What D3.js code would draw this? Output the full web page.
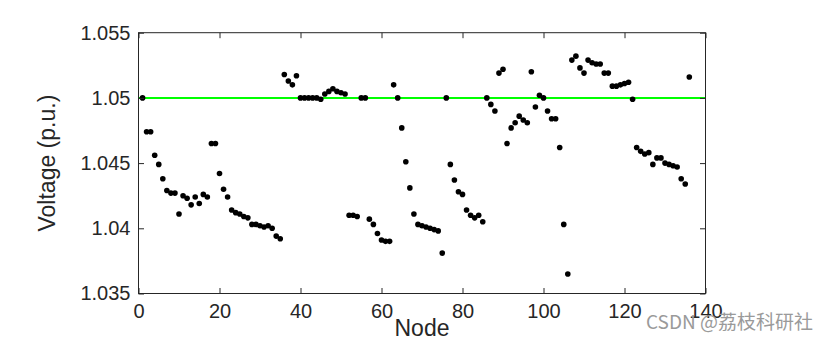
<!DOCTYPE html>
<html>
<head>
<meta charset="utf-8">
<script src="https://cdn.jsdelivr.net/npm/d3@7"></script>
<style>
  body { margin: 0; background: #fff; }
  text { font-family: "Liberation Sans", Arial, Helvetica, sans-serif; }
</style>
</head>
<body>
<svg width="827" height="341"></svg>
<script>
// voltage at node 1..136 (p.u.)
const voltage = [
  1.0500, 1.0474, 1.0474, 1.0456, 1.0449, 1.0438, 1.0429, 1.0427, 1.0427, 1.0411,
  1.0425, 1.0423, 1.0418, 1.0424, 1.0419, 1.0426, 1.0424, 1.0465, 1.0465, 1.0442,
  1.0430, 1.0424, 1.0414, 1.0412, 1.0411, 1.0409, 1.0408, 1.0403, 1.0403, 1.0402,
  1.0401, 1.0402, 1.0400, 1.0394, 1.0392, 1.0518, 1.0513, 1.0510, 1.0517, 1.0500,
  1.0500, 1.0500, 1.0500, 1.0500, 1.0499, 1.0503, 1.0505, 1.0507, 1.0505, 1.0504,
  1.0503, 1.0410, 1.0410, 1.0409, 1.0500, 1.0500, 1.0407, 1.0403, 1.0396, 1.0391,
  1.0390, 1.0390, 1.0510, 1.0500, 1.0477, 1.0451, 1.0431, 1.0411, 1.0403, 1.0402,
  1.0401, 1.0400, 1.0399, 1.0398, 1.0381, 1.0500, 1.0449, 1.0437, 1.0428, 1.0426,
  1.0414, 1.0410, 1.0408, 1.0410, 1.0405, 1.0500, 1.0495, 1.0490, 1.0519, 1.0522,
  1.0465, 1.0477, 1.0481, 1.0486, 1.0483, 1.0481, 1.0520, 1.0493, 1.0502, 1.0500,
  1.0490, 1.0484, 1.0484, 1.0462, 1.0403, 1.0365, 1.0529, 1.0532, 1.0523, 1.0519,
  1.0529, 1.0527, 1.0526, 1.0526, 1.0519, 1.0519, 1.0509, 1.0509, 1.0510, 1.0511,
  1.0512, 1.0499, 1.0462, 1.0459, 1.0457, 1.0458, 1.0449, 1.0454, 1.0454, 1.0450,
  1.0449, 1.0448, 1.0447, 1.0438, 1.0434, 1.0516
];
const refVoltage = 1.05;

const xTicks = [0, 20, 40, 60, 80, 100, 120, 140];
const yTicks = [1.035, 1.04, 1.045, 1.05, 1.055];
const yTickLabels = ['1.035', '1.04', '1.045', '1.05', '1.055'];

const margin = { top: 32.7, right: 121.5, bottom: 47.5, left: 138.5 };

const svg = d3.select('svg');
const width = +svg.attr('width') - margin.left - margin.right;
const height = +svg.attr('height') - margin.top - margin.bottom;
const axisColor = '#262626';

const g = svg.append('g')
  .attr('transform', `translate(${margin.left},${margin.top})`);

const x = d3.scaleLinear().domain([0, 140]).range([0, width]);
const y = d3.scaleLinear().domain([1.035, 1.055]).range([height, 0]);

// reference line
g.append('line')
  .attr('x1', 0).attr('x2', width)
  .attr('y1', y(refVoltage)).attr('y2', y(refVoltage))
  .attr('stroke', '#00ff00')
  .attr('stroke-width', 2);

// points
g.append('g')
  .selectAll('circle')
  .data(voltage)
  .enter()
  .append('circle')
    .attr('cx', (d, i) => x(i + 1))
    .attr('cy', d => y(d))
    .attr('r', 2.8)
    .attr('fill', '#000');

// axes (ticks inward on all four sides)
const tl = 5.5;
const styleAxis = sel => {
  sel.select('.domain').remove();
  sel.selectAll('.tick line').attr('stroke', axisColor);
  sel.selectAll('.tick text')
    .attr('fill', axisColor)
    .style('font-size', '20px');
};

g.append('g')
  .attr('transform', `translate(0,${height})`)
  .call(d3.axisBottom(x).tickValues(xTicks).tickSizeInner(-tl).tickSizeOuter(0).tickPadding(10))
  .call(styleAxis);

g.append('g')
  .call(d3.axisTop(x).tickValues(xTicks).tickSizeInner(-tl).tickSizeOuter(0).tickFormat(''))
  .call(styleAxis);

g.append('g')
  .call(d3.axisLeft(y).tickValues(yTicks).tickSizeInner(-tl).tickSizeOuter(0).tickPadding(8)
    .tickFormat((d, i) => yTickLabels[i]))
  .call(styleAxis);

g.append('g')
  .attr('transform', `translate(${width},0)`)
  .call(d3.axisRight(y).tickValues(yTicks).tickSizeInner(-tl).tickSizeOuter(0).tickFormat(''))
  .call(styleAxis);

// box
g.append('rect')
  .attr('width', width).attr('height', height)
  .attr('fill', 'none')
  .attr('stroke', axisColor)
  .attr('stroke-width', 1);

// labels
g.append('text')
  .attr('x', width / 2)
  .attr('y', height + 43)
  .attr('text-anchor', 'middle')
  .attr('fill', axisColor)
  .style('font-size', '23px')
  .text('Node');

g.append('text')
  .attr('transform', `translate(${-84},${height / 2}) rotate(-90)`)
  .attr('text-anchor', 'middle')
  .attr('fill', axisColor)
  .style('font-size', '23px')
  .text('Voltage (p.u.)');

// watermark
svg.append('text')
  .attr('x', 813)
  .attr('y', 329)
  .attr('text-anchor', 'end')
  .attr('fill', '#9a9a9a')
  .style('font-family', '"Noto Sans CJK SC", "Liberation Sans", sans-serif')
  .style('font-size', '19px')
  .text('CSDN @荔枝科研社');
</script>
</body>
</html>
